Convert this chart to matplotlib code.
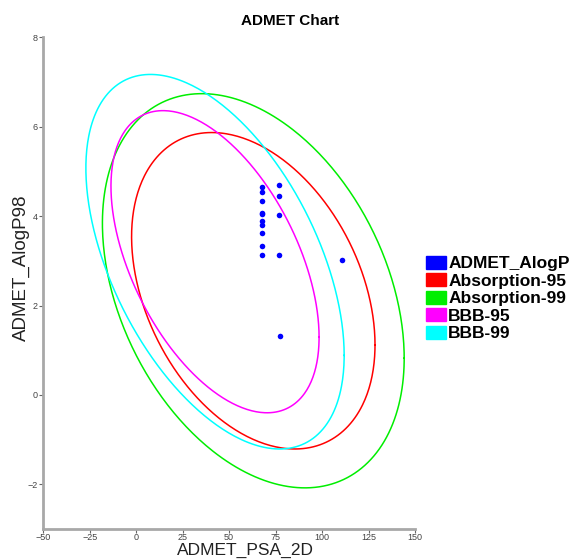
import matplotlib

matplotlib.use("Agg")
import matplotlib.pyplot as plt  # noqa: E402
import numpy as np  # noqa: E402
from matplotlib.patches import Patch  # noqa: E402

plt.rcParams["font.family"] = ["Liberation Sans", "DejaVu Sans"]

# compounds (PSA_2D, AlogP98)
psa = [67.7, 67.7, 67.7, 67.7, 67.7, 67.7, 67.7, 67.7, 67.7, 67.7,
       76.7, 76.7, 76.7, 76.7, 110.5, 77.4]
alogp = [4.66, 4.53, 4.33, 4.08, 4.04, 3.88, 3.81, 3.62, 3.34, 3.14,
         4.69, 4.45, 4.03, 3.12, 3.02, 1.31]

# confidence ellipses: centre, half-widths along x / y, phase (deg)
ell_names = ["Absorption-95", "Absorption-99", "BBB-95", "BBB-99"]
ell_colors = ["#ff0000", "#00ee00", "#ff00ff", "#00ffff"]
ell_cx = [63.0, 63.0, 42.4, 42.4]
ell_cy = [2.33, 2.33, 2.98, 2.98]
ell_rx = [65.5, 81.2, 56.0, 69.5]
ell_ry = [3.54, 4.41, 3.38, 4.19]
ell_phase = [110, 110, 120, 120]

xticks = [-50, -25, 0, 25, 50, 75, 100, 125, 150]
yticks = [-2, 0, 2, 4, 6, 8]


def main() -> None:
    fig = plt.figure(figsize=(5.73, 5.59), dpi=100)
    ax = fig.add_axes([0.0756, 0.0537, 0.6486, 0.8795])

    t = np.linspace(0, 2 * np.pi, 400)
    for cx, cy, rx, ry, ph, col in zip(ell_cx, ell_cy, ell_rx, ell_ry, ell_phase, ell_colors):
        d = np.deg2rad(ph)
        ax.plot(cx + rx * np.cos(t), cy + ry * np.cos(t - d), color=col, lw=1.1)

    ax.scatter(psa, alogp, s=16, color="#0000ff", zorder=3, linewidths=0)

    ax.set_xlim(-50, 150)
    ax.set_ylim(-3, 8)
    ax.set_xticks(xticks)
    ax.set_yticks(yticks)
    ax.tick_params(labelsize=6.5, labelcolor="#444444", color="#666666",
                   length=3, width=0.8, pad=1)
    ax.tick_params(axis="x", pad=0)
    for side in ("top", "right"):
        ax.spines[side].set_visible(False)
    for side in ("left", "bottom"):
        ax.spines[side].set_color("#a8a8a8")
        ax.spines[side].set_linewidth(2)

    # axis titles placed on the figure to match the original layout
    fig.text(0.4276, 0.001, "ADMET_PSA_2D", ha="center", va="bottom",
             fontsize=12.5, color="#222222")
    fig.text(0.038, 0.5206, "ADMET_AlogP98", ha="center", va="center",
             rotation=90, fontsize=13.5, color="#222222")
    fig.text(0.506, 0.962, "ADMET Chart", ha="center", va="center",
             fontsize=11, fontweight="bold")

    handles = [Patch(facecolor="#0000ff", edgecolor="#0000ff")]
    handles += [Patch(facecolor=c, edgecolor=c) for c in ell_colors]
    labels = ["ADMET_AlogP"] + ell_names
    fig.legend(handles, labels, loc="center left", bbox_to_anchor=(0.7435, 0.466),
               frameon=False, prop={"weight": "bold", "size": 12.5},
               handlelength=1.15, handleheight=0.75, handletextpad=0.12,
               labelspacing=0.12, borderaxespad=0, borderpad=0)

    fig.savefig("out.png", dpi=100)


if __name__ == "__main__":
    main()
